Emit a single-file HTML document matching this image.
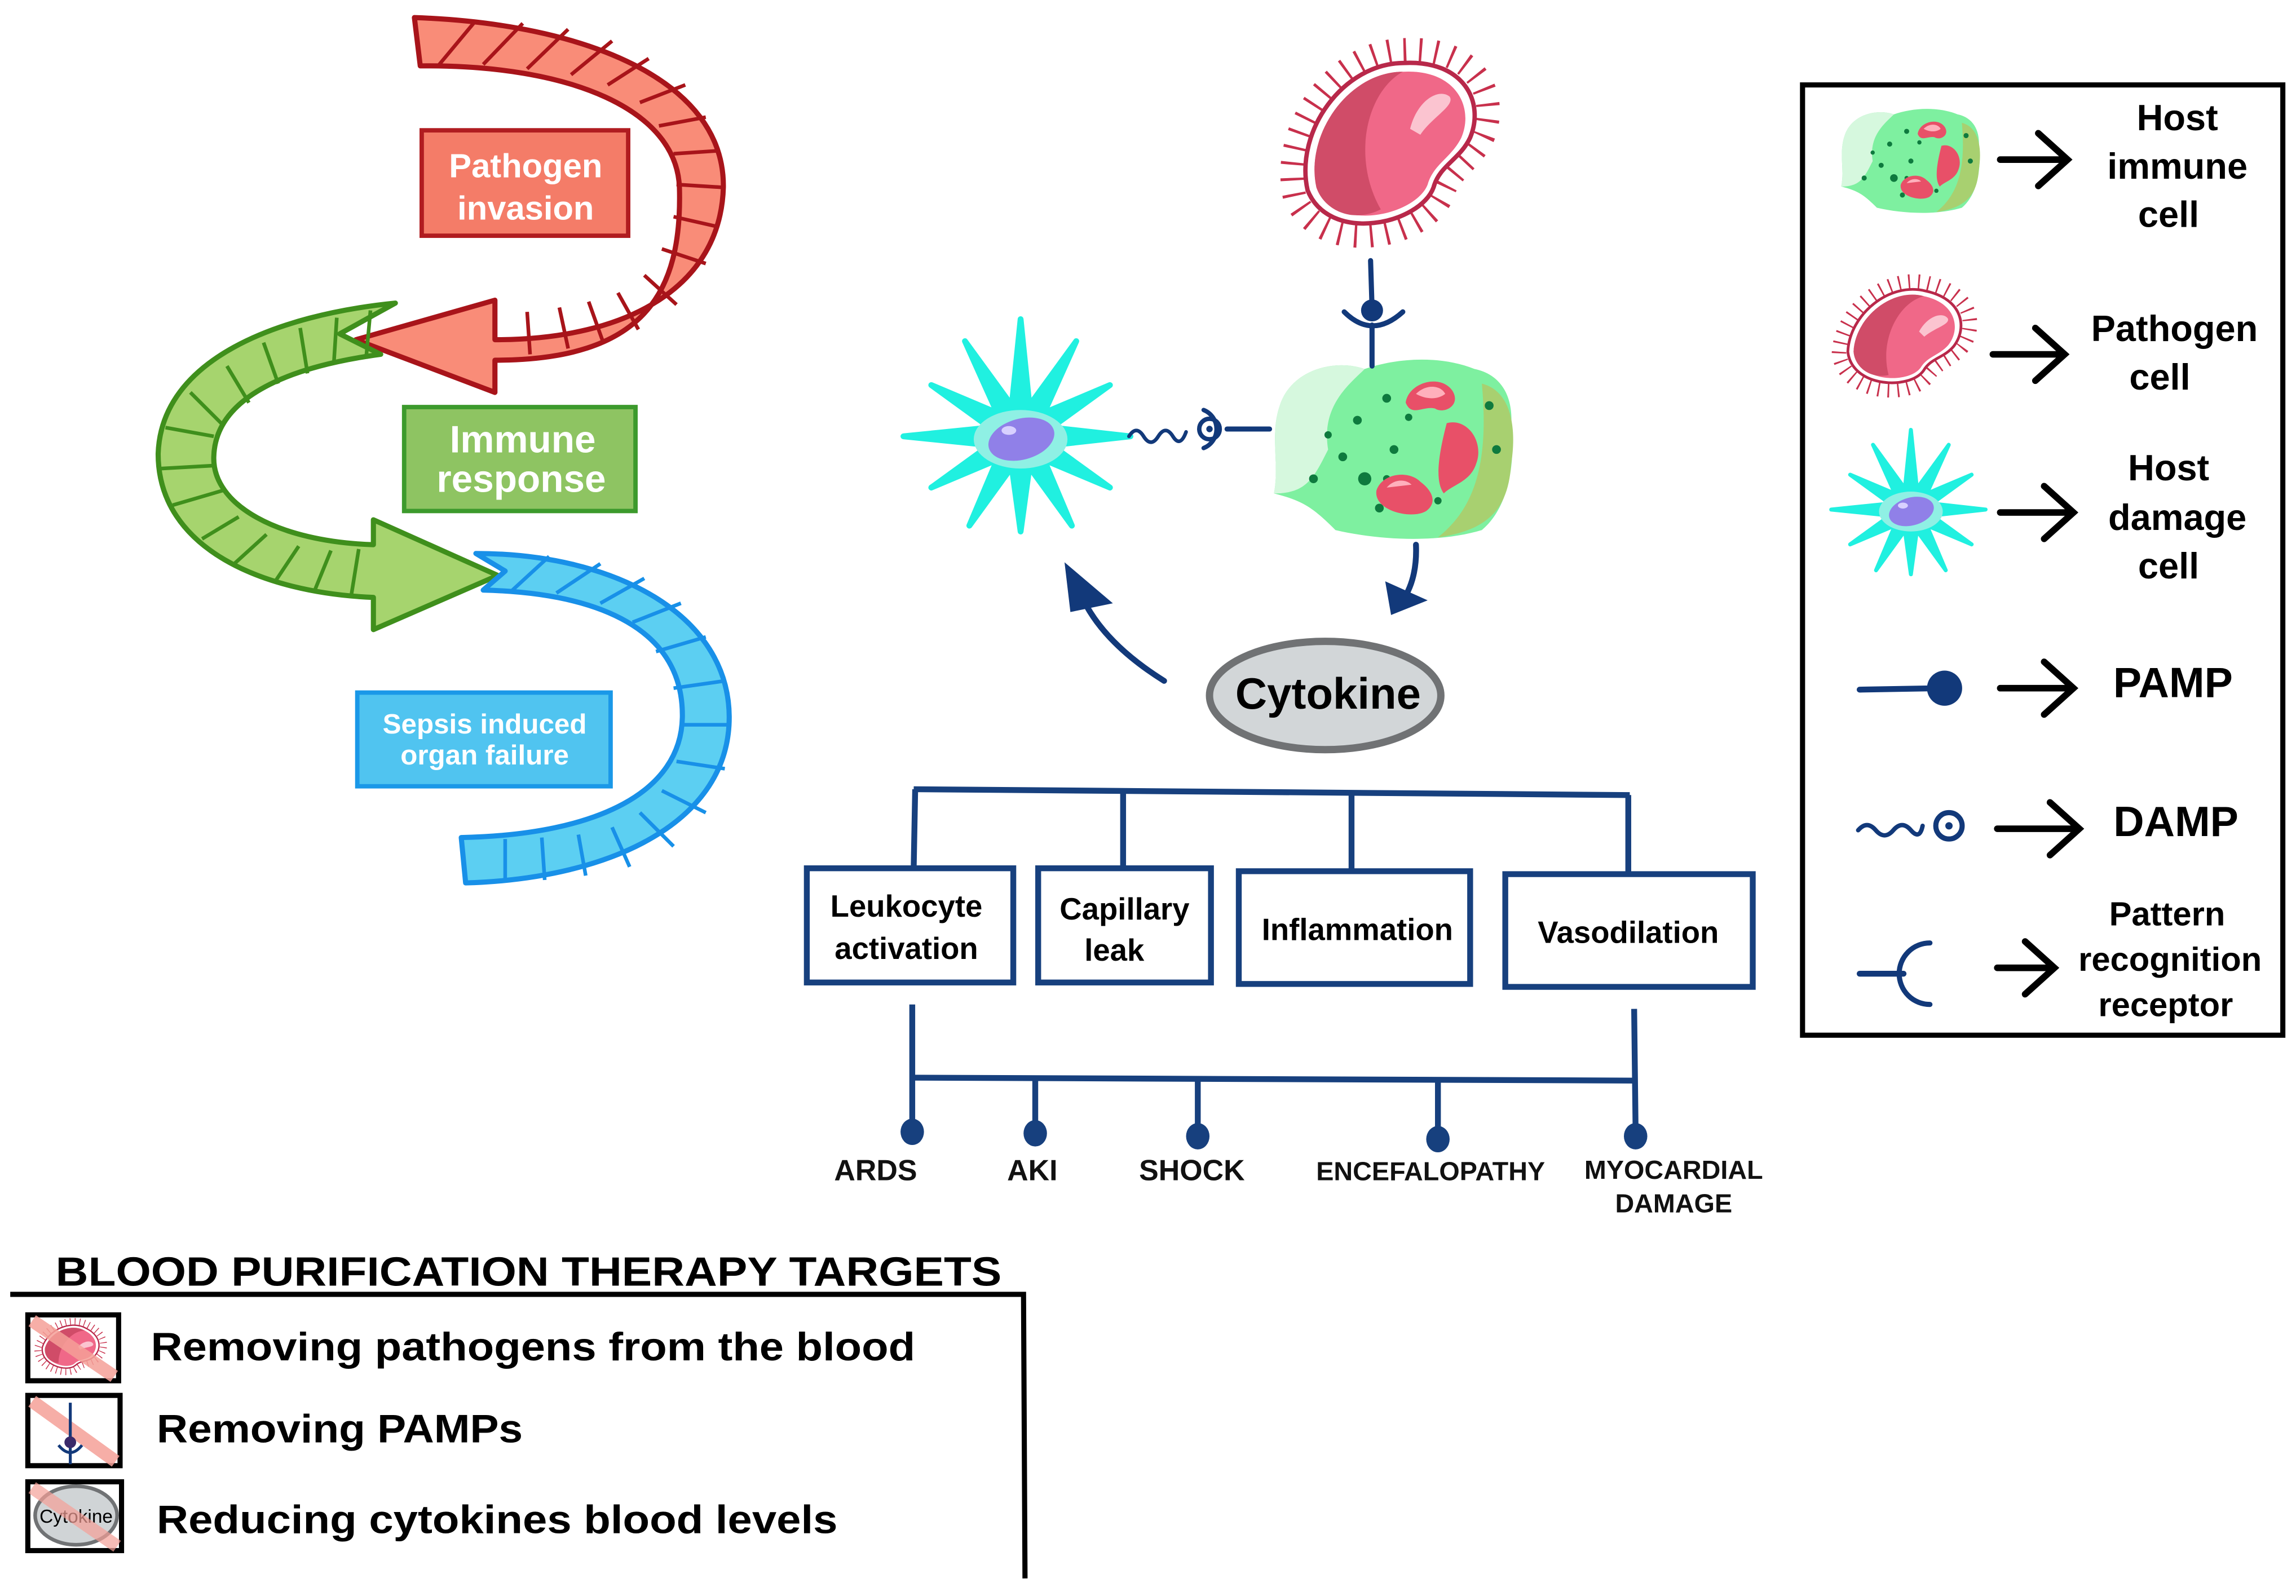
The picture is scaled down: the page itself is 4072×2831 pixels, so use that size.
<!DOCTYPE html>
<html><head><meta charset="utf-8"><style>
html,body{margin:0;padding:0;background:#fff}
svg{display:block}
text{font-family:"Liberation Sans",sans-serif;font-weight:bold}
</style></head><body>
<svg width="4072" height="2831" viewBox="0 0 1568 1090" preserveAspectRatio="none" xmlns="http://www.w3.org/2000/svg">
<defs>
<g id="path">
 <path d="M-64,36 C-74,-10 -36,-64 12,-64 C60,-66 76,-33 65,-5 C57,12 42,18 37,35 C26,64 -46,80 -64,36 Z" fill="none" stroke="#c8304c" stroke-width="16" stroke-dasharray="1.8 9"/>
 <path d="M-55,32 C-64,-8 -31,-55 11,-55 C52,-57 66,-28 56,-4 C49,11 35,15 31,30 C22,55 -40,69 -55,32 Z" fill="#fff" stroke="#b8284a" stroke-width="3"/>
 <path d="M-49,30 C-57,-6 -27,-49 10,-49 C46,-51 59,-25 50,-4 C43,10 31,14 27,28 C19,49 -36,62 -49,30 Z" fill="#f06888"/>
 <path d="M-49,30 C-57,-6 -27,-49 10,-49 C-15,-35 -25,10 -5,45 C-25,55 -44,45 -49,30 Z" fill="#d04c68"/>
 <path d="M15,-10 C20,-30 35,-38 42,-32 C46,-26 30,-18 22,-6 Z" fill="#fbc4d0"/>
</g>
<g id="imm">
 <path d="M-78,-30 C-70,-55 -40,-62 -20,-55 C0,-62 30,-65 55,-55 C70,-52 82,-40 80,-15 C83,10 78,40 60,55 C30,64 -10,62 -40,55 C-55,40 -62,35 -82,30 C-78,10 -85,-10 -78,-30 Z" fill="#7ef0a0"/>
 <path d="M-78,-30 C-70,-55 -40,-62 -20,-55 C-30,-45 -50,-30 -45,0 C-55,20 -60,30 -82,30 C-78,10 -85,-10 -78,-30 Z" fill="#d6f8de"/>
 <path d="M60,-45 C80,-40 84,-15 80,10 C78,40 65,55 30,60 C55,40 65,10 60,-45 Z" fill="#a8d070"/>
 <g fill="#0e7a3e"><circle cx="-45" cy="-10" r="2.5"/><circle cx="-25" cy="-20" r="3"/><circle cx="-5" cy="-35" r="3"/><circle cx="-20" cy="20" r="4.5"/><circle cx="-35" cy="5" r="3"/><circle cx="0" cy="0" r="3"/><circle cx="10" cy="-22" r="2.5"/><circle cx="-10" cy="40" r="3"/><circle cx="-55" cy="20" r="3"/><circle cx="30" cy="35" r="2.5"/><circle cx="65" cy="-30" r="3"/><circle cx="70" cy="0" r="3"/><circle cx="-5" cy="20" r="2.5"/></g>
 <path d="M8,-32 C10,-46 32,-52 40,-40 C46,-30 34,-24 28,-28 C20,-30 12,-22 8,-32 Z" fill="#e85068"/>
 <path d="M36,-18 C50,-22 62,-5 56,10 C52,22 40,24 34,30 C28,22 30,5 36,-18 Z" fill="#e85068"/>
 <path d="M-12,28 C-8,16 10,14 18,22 C26,28 30,36 22,42 C12,48 -14,42 -12,28 Z" fill="#e85068"/>
 <path d="M15,-38 C22,-45 32,-44 35,-38 C30,-34 22,-34 15,-38 Z M-5,26 C0,20 8,20 12,24 Z" fill="#ffb0bc"/>
</g>
<g id="dmg">
 <polygon points="75,0 21,-6 61,-35 16,-16 38,-65 6,-21 0,-80 -6,-21 -38,-65 -16,-16 -61,-35 -21,-6 -80,0 -21,6 -61,35 -16,16 -35,61 -6,21 0,65 6,21 35,61 16,16 61,35 21,6" fill="#20f0e0" stroke="#20f0e0" stroke-width="4" stroke-linejoin="round"/>
 <ellipse cx="0" cy="2" rx="32" ry="20" fill="#8ff0e4"/>
 <ellipse cx="0" cy="2" rx="23" ry="14" transform="rotate(-15)" fill="#9080e8"/>
 <ellipse cx="-8" cy="-4" rx="5" ry="3" fill="#d8d0ff"/>
</g>
</defs>

<!-- red arrow -->
<path d="M283,12 C400,16 495,55 494,128 C492,195 430,232 338,232 L338,205 L243,232 L338,268 L338,246 C440,246 466,200 464,128 C462,75 390,44 287,45 Z" fill="#f98c78" stroke="#a8141a" stroke-width="3.5" stroke-linejoin="round"/>
<g stroke="#a8141a" stroke-width="2.5" fill="none">
<path d="M300,44 L325,14 M330,44 L357,16 M360,47 L388,20 M390,51 L418,28 M415,58 L443,40 M437,70 L468,58 M450,86 L482,80 M460,105 L490,103 M462,126 L494,128 M460,148 L491,155 M452,170 L482,180 M440,188 L462,208 M422,200 L436,225 M402,206 L412,234 M382,210 L388,238 M360,213 L362,242"/>
</g>
<!-- green arrow -->
<path d="M270,207 C190,215 110,245 108,310 C108,375 180,405 255,408 L255,430 L340,393 L255,355 L255,372 C190,370 145,345 146,312 C147,270 200,250 260,242 L232,228 Z" fill="#a6d46e" stroke="#3f8f1c" stroke-width="3.5" stroke-linejoin="round"/>
<g stroke="#3f8f1c" stroke-width="2.5" fill="none">
<path d="M253,212 L250,245 M230,217 L228,248 M205,224 L210,255 M180,234 L190,262 M155,250 L170,275 M130,268 L152,290 M113,292 L146,298 M110,320 L146,318 M118,345 L152,335 M138,368 L163,353 M160,385 L182,365 M188,397 L204,373 M215,403 L226,376 M240,406 L245,375"/>
</g>
<!-- blue arrow -->
<path d="M325,378 C420,378 498,420 498,490 C498,560 420,600 318,603 L315,572 C410,570 465,540 466,490 C467,430 410,405 330,403 L345,390 Z" fill="#5ccff2" stroke="#1890e8" stroke-width="3.5" stroke-linejoin="round"/>
<g stroke="#1890e8" stroke-width="2.5" fill="none">
<path d="M350,403 L375,380 M380,405 L410,385 M410,412 L440,395 M432,425 L465,412 M448,445 L482,435 M460,470 L495,465 M466,495 L498,495 M462,520 L495,525 M452,540 L482,555 M437,555 L460,578 M418,565 L430,592 M395,570 L400,598 M370,572 L372,601 M345,573 L345,602"/>
</g>
<!-- labels -->
<rect x="288" y="89" width="141" height="72" fill="#f47c68" stroke="#b01c20" stroke-width="3"/>
<text x="359" y="121" font-size="23" fill="#fff" text-anchor="middle">Pathogen</text>
<text x="359" y="150" font-size="23" fill="#fff" text-anchor="middle">invasion</text>
<rect x="276" y="278" width="158" height="71" fill="#8ec462" stroke="#3c9a2c" stroke-width="3"/>
<text x="357" y="309" font-size="26" fill="#fff" text-anchor="middle">Immune</text>
<text x="356" y="336" font-size="26" fill="#fff" text-anchor="middle">response</text>
<rect x="244" y="473" width="173" height="64" fill="#50c4f0" stroke="#1a98e8" stroke-width="3"/>
<text x="331" y="501" font-size="19" fill="#fff" text-anchor="middle">Sepsis induced</text>
<text x="331" y="522" font-size="19" fill="#fff" text-anchor="middle">organ failure</text>

<!-- center cells -->
<use href="#path" x="948" y="98"/>
<use href="#imm" x="952" y="307"/>
<use href="#dmg" x="697" y="298"/>
<g stroke="#12397a" stroke-width="3.5" fill="none" stroke-linecap="round">
<line x1="936" y1="178" x2="937" y2="210"/>
<path d="M918,213 Q937,232 958,213"/>
<line x1="937" y1="222" x2="937" y2="250"/>
<path d="M771,298 q5,-8 10,0 t10,0 t10,0 t9,-3" stroke-width="2.5"/>
<circle cx="826" cy="293" r="7" stroke-width="3"/>
<path d="M822,280 A14,14 0 0 1 822,306" stroke-width="3"/>
<line x1="838" y1="293" x2="867" y2="293"/>
<path d="M967,372 Q968,395 958,410" stroke-width="4"/>
<path d="M795,465 Q755,440 740,410" stroke-width="4"/>
</g>
<circle cx="937" cy="212" r="7.5" fill="#12397a"/>
<circle cx="826" cy="293" r="2.2" fill="#12397a"/>
<polygon points="946,397 975,410 950,420" fill="#12397a"/>
<polygon points="727,384 760,412 731,418" fill="#12397a"/>
<ellipse cx="905" cy="475" rx="79" ry="37" fill="#d2d6d8" stroke="#707274" stroke-width="5"/>
<text x="907" y="484" font-size="30" text-anchor="middle" fill="#000">Cytokine</text>

<!-- tree -->
<g stroke="#17407e" stroke-width="4" fill="none">
<line x1="624" y1="539" x2="1113" y2="543"/>
<line x1="625" y1="539" x2="624" y2="592"/>
<line x1="767" y1="540" x2="767" y2="592"/>
<line x1="923" y1="541" x2="923" y2="594"/>
<line x1="1112" y1="543" x2="1112" y2="597"/>
<rect x="551" y="593" width="141" height="78"/>
<rect x="709" y="593" width="118" height="78"/>
<rect x="846" y="595" width="158" height="77"/>
<rect x="1028" y="597" width="169" height="77"/>
<line x1="623" y1="686" x2="623" y2="773"/>
<line x1="1116" y1="689" x2="1117" y2="773"/>
<line x1="623" y1="736" x2="1117" y2="738"/>
<line x1="707" y1="737" x2="707" y2="772"/>
<line x1="818" y1="737" x2="818" y2="774"/>
<line x1="982" y1="738" x2="982" y2="776"/>
</g>
<g fill="#17407e">
<ellipse cx="623" cy="773" rx="8" ry="9"/><ellipse cx="707" cy="774" rx="8" ry="9"/><ellipse cx="818" cy="776" rx="8" ry="9"/><ellipse cx="982" cy="778" rx="8" ry="9"/><ellipse cx="1117" cy="776" rx="8" ry="9"/>
</g>
<g font-size="21" fill="#000" text-anchor="middle">
<text x="619" y="626">Leukocyte</text><text x="619" y="655">activation</text>
<text x="768" y="628">Capillary</text><text x="761" y="656">leak</text>
<text x="927" y="642">Inflammation</text>
<text x="1112" y="644">Vasodilation</text>
</g>
<g font-size="20" fill="#111" text-anchor="middle">
<text x="598" y="806">ARDS</text><text x="705" y="806">AKI</text><text x="814" y="806">SHOCK</text>
<text x="977" y="806" font-size="18">ENCEFALOPATHY</text>
<text x="1143" y="805" font-size="18">MYOCARDIAL</text><text x="1143" y="828" font-size="18">DAMAGE</text>
</g>

<!-- legend -->
<rect x="1231" y="58" width="328" height="649" fill="none" stroke="#000" stroke-width="3.5"/>
<use href="#imm" transform="translate(1305,110) scale(0.58)"/>
<use href="#path" transform="translate(1300,230) scale(0.62) rotate(15)"/>
<use href="#dmg" transform="translate(1305,348) scale(0.68)"/>
<g stroke="#12397a" stroke-width="4" fill="none" stroke-linecap="round">
<line x1="1270" y1="471" x2="1325" y2="470"/>
<path d="M1269,567 q6,-7 12,0 t12,0 t12,0 t8,-3" stroke-width="3"/>
<circle cx="1331" cy="564" r="9" stroke-width="3.5"/>
<line x1="1270" y1="665" x2="1300" y2="665"/>
<path d="M1318,644 A21,21 0 0 0 1318,686" stroke-width="3.5"/>
</g>
<circle cx="1328" cy="470" r="12" fill="#12397a"/>
<circle cx="1331" cy="564" r="2.5" fill="#12397a"/>
<g stroke="#000" stroke-width="4.5" fill="none" stroke-linecap="round">
<path d="M1366,109 L1412,109 M1392,91 L1412,109 L1392,127"/>
<path d="M1361,242 L1410,242 M1390,224 L1410,242 L1390,260"/>
<path d="M1366,350 L1416,350 M1396,332 L1416,350 L1396,368"/>
<path d="M1366,470 L1416,470 M1396,452 L1416,470 L1396,488"/>
<path d="M1364,566 L1420,566 M1400,548 L1420,566 L1400,584"/>
<path d="M1364,661 L1403,661 M1383,643 L1403,661 L1383,679"/>
</g>
<g font-size="25" fill="#000" text-anchor="middle">
<text x="1487" y="89">Host</text><text x="1487" y="122">immune</text><text x="1481" y="155">cell</text>
<text x="1485" y="233">Pathogen</text><text x="1475" y="266">cell</text>
<text x="1481" y="328">Host</text><text x="1487" y="362">damage</text><text x="1481" y="395">cell</text>
<text x="1484" y="476" font-size="29">PAMP</text>
<text x="1486" y="571" font-size="29">DAMP</text>
<text x="1480" y="632" font-size="23">Pattern</text><text x="1482" y="663" font-size="23">recognition</text><text x="1479" y="694" font-size="23">receptor</text>
</g>

<!-- therapy targets -->
<text x="38" y="878" font-size="28" fill="#000" textLength="646" lengthAdjust="spacingAndGlyphs">BLOOD PURIFICATION THERAPY TARGETS</text>
<path d="M7,884 L699,884 L700,1078" fill="none" stroke="#000" stroke-width="3.5"/>
<g>
<rect x="19" y="898" width="62" height="45" fill="#fff" stroke="#000" stroke-width="3.5"/>
<use href="#path" transform="translate(48,920) scale(0.3) rotate(30)"/>
<line x1="22" y1="902" x2="78" y2="940" stroke="#f5a098" stroke-width="9" opacity="0.85"/>
<rect x="19" y="953" width="63" height="48" fill="#fff" stroke="#000" stroke-width="3.5"/>
<line x1="22" y1="957" x2="79" y2="998" stroke="#f5a098" stroke-width="9" opacity="0.85"/>
<line x1="48" y1="958" x2="48" y2="1000" stroke="#12397a" stroke-width="2"/>
<circle cx="48" cy="985" r="4" fill="#3a2a6a"/>
<path d="M40,987 Q48,997 56,987" fill="none" stroke="#12397a" stroke-width="2"/>
<rect x="19" y="1012" width="64" height="47" fill="#fff" stroke="#000" stroke-width="3.5"/>
<ellipse cx="52" cy="1035" rx="28" ry="20" fill="#d0d4d6" stroke="#707274" stroke-width="2.5"/>
<text x="52" y="1040" font-size="13" text-anchor="middle" fill="#000" textLength="50" lengthAdjust="spacingAndGlyphs" style="font-weight:normal">Cytokine</text>
<line x1="22" y1="1016" x2="80" y2="1056" stroke="#f5a098" stroke-width="9" opacity="0.7"/>
</g>
<g font-size="27" fill="#000">
<text x="103" y="929" textLength="522" lengthAdjust="spacingAndGlyphs">Removing pathogens from the blood</text>
<text x="107" y="985" textLength="250" lengthAdjust="spacingAndGlyphs">Removing PAMPs</text>
<text x="107" y="1047" textLength="465" lengthAdjust="spacingAndGlyphs">Reducing cytokines blood levels</text>
</g>
</svg>
</body></html>
